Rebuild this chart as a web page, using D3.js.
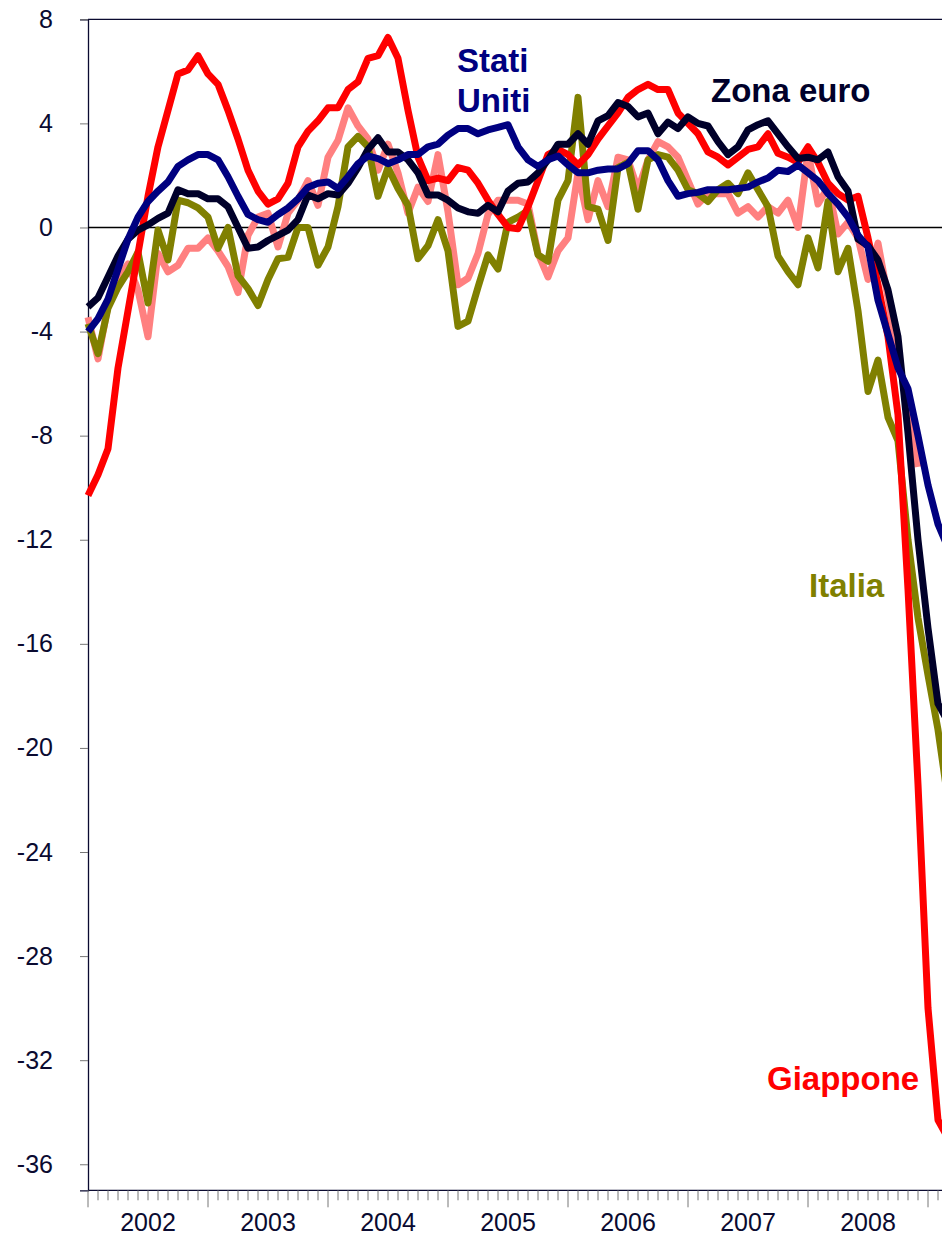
<!DOCTYPE html>
<html>
<head>
<meta charset="utf-8">
<script src="https://cdn.jsdelivr.net/npm/d3@7/dist/d3.min.js"></script>
<style>
	body { margin: 0; background: #fff; }
	svg { display: block; font-family: "Liberation Sans", Arial, Helvetica, sans-serif; }
</style>
</head>
<body>
<svg id="chart" width="942" height="1235"></svg>
<script>
// dati mensili, gennaio 2002 = indice 0
var anni = ["2002", "2003", "2004", "2005", "2006", "2007", "2008"];
var tickY = [8, 4, 0, -4, -8, -12, -16, -20, -24, -28, -32, -36];

var giappone = [
	-10.3, -9.5, -8.5, -5.4, -3.2, -1.0, 1.2, 3.1, 4.5, 5.9, 6.05, 6.6,
	5.9, 5.5, 4.5, 3.4, 2.2, 1.4, 0.9, 1.1, 1.7, 3.1, 3.7, 4.1,
	4.6, 4.6, 5.3, 5.6, 6.5, 6.6, 7.3, 6.5, 4.5, 2.7, 1.8, 1.9,
	1.8, 2.3, 2.2, 1.7, 1.05, 0.5, 0.0, -0.05, 0.8, 1.8, 2.8, 3.0,
	2.8, 2.4, 2.8, 3.4, 3.9, 4.4, 5.0, 5.3, 5.5, 5.3, 5.3, 4.4,
	4.0, 3.6, 2.9, 2.7, 2.4, 2.7, 3.0, 3.1, 3.6, 2.85, 2.7, 2.5,
	3.1, 2.5, 1.7, 1.3, 1.05, 1.2, -0.4, -2.2, -4.2, -7.2, -13.9, -21.4,
	-30.0, -34.3, -35.0
];

var zonaEuro = [
	-3.05, -2.7, -1.9, -1.1, -0.45, -0.1, 0.1, 0.35, 0.55, 1.45, 1.3, 1.3,
	1.1, 1.1, 0.8, 0.0, -0.8, -0.75, -0.5, -0.3, -0.1, 0.3, 1.25, 1.1,
	1.3, 1.25, 1.7, 2.3, 3.0, 3.45, 2.9, 2.9, 2.6, 2.1, 1.25, 1.25,
	1.05, 0.75, 0.6, 0.55, 0.85, 0.6, 1.4, 1.7, 1.75, 2.1, 2.6, 3.2,
	3.2, 3.6, 3.2, 4.1, 4.3, 4.8, 4.65, 4.25, 4.4, 3.6, 4.05, 3.8,
	4.25, 4.0, 3.9, 3.3, 2.8, 3.1, 3.75, 3.95, 4.1, 3.6, 3.1, 2.65,
	2.7, 2.6, 2.9, 1.95, 1.4, -0.45, -0.7, -1.25, -2.4, -4.2, -7.9, -12.0,
	-15.4, -18.3, -19.0
];

var statiUniti = [
	-4.0, -3.5, -2.75, -1.6, -0.45, 0.4, 1.0, 1.4, 1.75, 2.35, 2.6, 2.8,
	2.8, 2.6, 1.95, 1.2, 0.5, 0.3, 0.2, 0.5, 0.75, 1.1, 1.55, 1.7,
	1.75, 1.5, 1.95, 2.45, 2.75, 2.65, 2.45, 2.6, 2.8, 2.8, 3.1, 3.2,
	3.55, 3.8, 3.8, 3.6, 3.75, 3.85, 3.95, 3.1, 2.6, 2.35, 2.6, 2.75,
	2.4, 2.1, 2.1, 2.2, 2.25, 2.25, 2.45, 2.95, 2.95, 2.6, 1.8, 1.2,
	1.3, 1.35, 1.45, 1.45, 1.45, 1.5, 1.55, 1.75, 1.9, 2.2, 2.15, 2.4,
	2.1, 1.8, 1.3, 0.9, 0.4, -0.3, -0.75, -2.8, -4.1, -5.4, -6.2, -8.0,
	-9.9, -11.4, -12.3
];

var italia = [
	-3.7, -4.85, -3.1, -2.3, -1.7, -0.95, -2.9, -0.1, -1.25, 1.05, 0.95, 0.75,
	0.4, -0.8, 0.0, -1.85, -2.35, -3.0, -2.0, -1.2, -1.15, 0.0, 0.0, -1.45,
	-0.75, 0.8, 3.1, 3.5, 3.1, 1.2, 2.3, 1.5, 0.85, -1.2, -0.7, 0.3,
	-0.9, -3.8, -3.6, -2.3, -1.05, -1.6, 0.2, 0.4, 0.65, -1.05, -1.3, 1.05,
	1.8, 5.0, 0.8, 0.7, -0.5, 2.3, 2.5, 0.7, 2.6, 2.8, 2.7, 2.2,
	1.45, 1.3, 1.0, 1.45, 1.7, 1.3, 2.1, 1.45, 0.8, -1.1, -1.7, -2.2,
	-0.4, -1.55, 1.0, -1.7, -0.8, -3.2, -6.3, -5.1, -7.3, -8.2, -12.0, -15.0,
	-17.2, -19.3, -22.0
];

// serie senza etichetta (rosa)
var rosa = [
	-3.45, -5.05, -3.0, -2.0, -1.4, -2.4, -4.2, -1.0, -1.7, -1.45, -0.8, -0.8,
	-0.4, -0.9, -1.5, -2.5, -0.3, 0.4, 0.55, -0.75, 0.55, 1.05, 1.8, 0.85,
	2.7, 3.35, 4.6, 3.9, 3.4, 2.2, 3.2, 2.1, 0.55, 1.55, 1.0, 2.8,
	0.6, -2.2, -1.95, -1.0, 0.5, 1.05, 1.05, 1.05, 0.9, -1.0, -1.9, -0.9,
	-0.4, 2.1, 0.3, 1.8, 0.8, 2.7, 2.6, 1.45, 2.6, 3.3, 3.1, 2.7,
	1.8, 0.9, 1.3, 1.3, 1.3, 0.55, 0.8, 0.4, 0.8, 0.55, 1.05, 0.0,
	2.9, 0.9, 1.55, -0.25, 0.2, -0.4, -2.0, -0.6, -2.7, -4.9, -7.0, -9.2
];

var serie = [
	{ valori: rosa, colore: "#ff8080" },
	{ valori: italia, colore: "#808000" },
	{ valori: giappone, colore: "#ff0000" },
	{ valori: zonaEuro, colore: "#00002a" },
	{ valori: statiUniti, colore: "#000080" }
];

var svg = d3.select("#chart");
var coloreTesto = "#0a0a30";

var x = d3.scaleLinear().domain([0, 85.4]).range([88, 942]);
var y = d3.scaleLinear().domain([-37, 8]).range([1190.3, 19.3]);

// asse Y (trattino semplice come segno meno)
var assey = svg.append("g")
	.attr("transform", "translate(88,0)")
	.call(d3.axisLeft(y).tickValues(tickY).tickSize(8).tickPadding(27)
		.tickFormat(function (d) { return String(d); }));
assey.select(".domain").attr("stroke", coloreTesto).attr("stroke-width", 1.3);
assey.selectAll(".tick line").attr("stroke", "#777");
assey.selectAll(".tick text")
	.attr("fill", coloreTesto)
	.style("font-size", "25px")
	.style("font-family", "'Liberation Sans', Arial, sans-serif");

// bordo superiore e linea dello zero
svg.append("line")
	.attr("x1", x(0)).attr("x2", 942)
	.attr("y1", y(8)).attr("y2", y(8))
	.attr("stroke", coloreTesto).attr("stroke-width", 1.3);
svg.append("line")
	.attr("x1", x(0)).attr("x2", 942)
	.attr("y1", y(0)).attr("y2", y(0))
	.attr("stroke", "#000").attr("stroke-width", 1.3);

// asse X: tacche mensili, tacche lunghe a inizio anno
var mesi = d3.range(0, 86);
var assex = svg.append("g")
	.attr("transform", "translate(0," + y(-37) + ")");
assex.append("line")
	.attr("x1", x(0)).attr("x2", 942)
	.attr("y1", 0).attr("y2", 0)
	.attr("stroke", coloreTesto).attr("stroke-width", 1.3);
assex.selectAll("line.tacca")
	.data(mesi)
	.enter().append("line")
	.attr("class", "tacca")
	.attr("x1", function (d) { return x(d); })
	.attr("x2", function (d) { return x(d); })
	.attr("y1", 0)
	.attr("y2", function (d) { return d % 12 === 0 ? 17 : 10; })
	.attr("stroke", "#777").attr("stroke-width", 1);
assex.selectAll("text.anno")
	.data(anni)
	.enter().append("text")
	.attr("class", "anno")
	.attr("x", function (d, i) { return x(i * 12 + 6); })
	.attr("y", 41)
	.attr("text-anchor", "middle")
	.attr("fill", coloreTesto)
	.style("font-size", "25px")
	.text(function (d) { return d; });

// linee
var linea = d3.line()
	.x(function (d, i) { return x(i); })
	.y(function (d) { return y(d); });

svg.selectAll("path.serie")
	.data(serie)
	.enter().append("path")
	.attr("class", "serie")
	.attr("d", function (d) { return linea(d.valori); })
	.attr("fill", "none")
	.attr("stroke", function (d) { return d.colore; })
	.attr("stroke-width", 7)
	.attr("stroke-linejoin", "round");

// etichette
function etichetta(testo, px, py, colore) {
	svg.append("text")
		.attr("x", px).attr("y", py)
		.attr("fill", colore)
		.style("font-size", "33px")
		.style("font-weight", "bold")
		.text(testo);
}
etichetta("Stati", 457, 72, "#000080");
etichetta("Uniti", 457, 112, "#000080");
etichetta("Zona euro", 711, 102, "#00002a");
etichetta("Italia", 809, 597, "#808000");
etichetta("Giappone", 767, 1090, "#ff0000");
</script>
</body>
</html>
